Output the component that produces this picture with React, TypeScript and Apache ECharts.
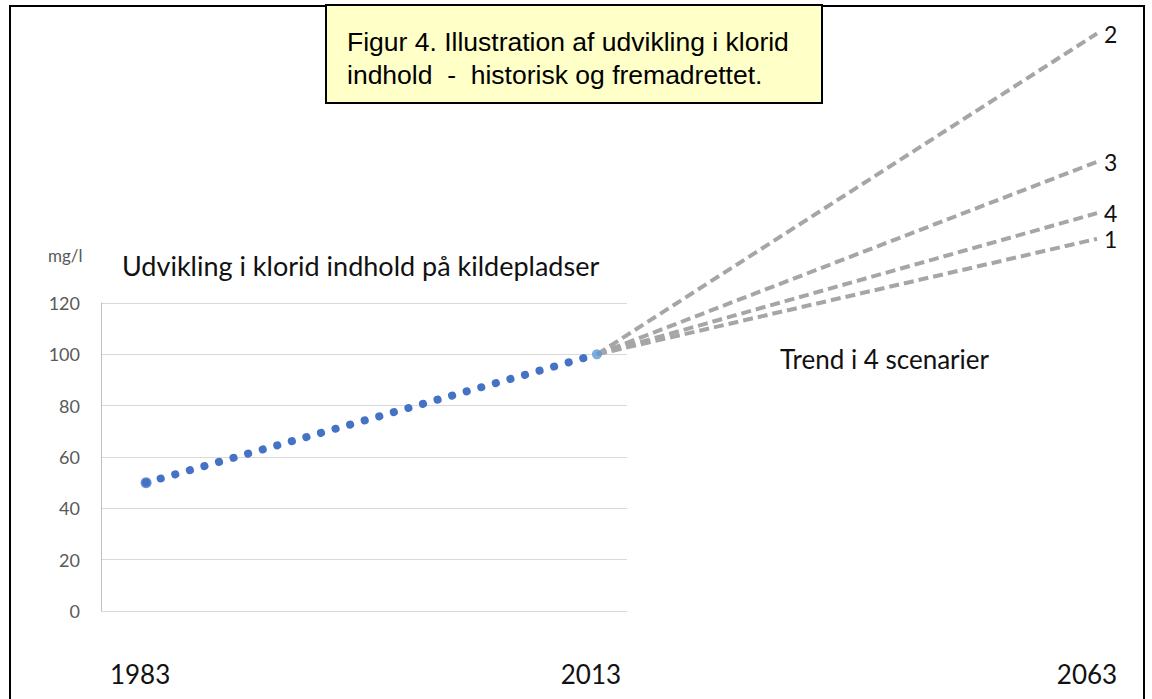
import React, { useEffect, useRef } from "react";
import * as echarts from "echarts";

// History: chloride content on the wells (mg/l)
const historyYears = [1983, 2013];
const historyValues = [50, 100];

// Scenario projections to 2063 (mg/l)
const scenarioNames = ["1", "2", "3", "4"];
const scenarioEndValues = [145, 225, 175, 155];
const projectionYears = [2013, 2063];

const yTicks = [0, 20, 40, 60, 80, 100, 120];
const xLabelsHistory = [1983, 2013];
const xLabelsProjection = [2063];

const FONT = "Lato, 'Open Sans', sans-serif";

export default function App() {
  const ref = useRef<HTMLDivElement>(null);
  useEffect(() => {
    if (!ref.current) return;
    const chart = echarts.init(ref.current, null, { renderer: "svg" });

    const scenarioSeries = scenarioNames.map((name, i) => ({
      name,
      type: "line",
      xAxisIndex: 1,
      yAxisIndex: 1,
      clip: false,
      symbol: "none",
      silent: true,
      z: 3,
      lineStyle: { color: "#A6A6A6", width: 4, type: [10, 5] },
      endLabel: {
        show: true,
        formatter: name,
        color: "#111",
        fontSize: 23,
        fontFamily: FONT,
        distance: 7,
      },
      data: [
        [projectionYears[0], historyValues[historyValues.length - 1]],
        [projectionYears[1], scenarioEndValues[i]],
      ],
    }));

    chart.setOption({
      animation: false,
      backgroundColor: "#ffffff",
      grid: [
        { left: 101, top: 303, width: 526, height: 308, containLabel: false },
        { left: 597, top: 303, width: 500, height: 308, containLabel: false },
      ],
      xAxis: [
        {
          type: "value",
          gridIndex: 0,
          min: 1980,
          max: 2015,
          splitLine: { show: false },
          axisLine: { show: false },
          axisTick: { show: false },
          axisLabel: {
            customValues: xLabelsHistory,
            formatter: (v: number) => String(v),
            fontSize: 26,
            fontFamily: FONT,
            color: "#111",
            margin: 50,
            padding: [0, 12, 0, 0],
          },
        },
        {
          type: "value",
          gridIndex: 1,
          min: projectionYears[0],
          max: projectionYears[1],
          splitLine: { show: false },
          axisLine: { show: false },
          axisTick: { show: false },
          axisLabel: {
            customValues: xLabelsProjection,
            formatter: (v: number) => String(v),
            fontSize: 26,
            fontFamily: FONT,
            color: "#111",
            margin: 50,
            padding: [0, 20, 0, 0],
          },
        },
      ],
      yAxis: [
        {
          type: "value",
          gridIndex: 0,
          min: 0,
          max: 120,
          interval: 20,
          axisLine: { show: true, lineStyle: { color: "#BFBFBF", width: 1 } },
          axisTick: { show: false },
          splitLine: { show: true, lineStyle: { color: "#D9D9D9", width: 1 } },
          axisLabel: {
            customValues: yTicks,
            color: "#595959",
            fontSize: 18,
            fontFamily: FONT,
            margin: 21,
          },
        },
        {
          type: "value",
          gridIndex: 1,
          min: 0,
          max: 120,
          show: false,
        },
      ],
      series: [
        {
          name: "Historisk",
          type: "line",
          xAxisIndex: 0,
          yAxisIndex: 0,
          symbol: "none",
          silent: true,
          z: 4,
          lineStyle: { color: "#4472C4", width: 8, type: [0.1, 15.05], cap: "round" },
          data: historyYears.map((y, i) => [y, historyValues[i]]),
        },
        {
          name: "Start",
          type: "scatter",
          xAxisIndex: 0,
          yAxisIndex: 0,
          silent: true,
          z: 5,
          symbolSize: 11,
          itemStyle: { color: "#4472C4" },
          data: [[historyYears[0], historyValues[0]]],
        },
        {
          name: "Nu",
          type: "scatter",
          xAxisIndex: 0,
          yAxisIndex: 0,
          silent: true,
          z: 5,
          symbolSize: 10,
          itemStyle: { color: "#5B9BD5" },
          data: [[historyYears[1], historyValues[1]]],
        },
        ...scenarioSeries,
      ],
      graphic: [
        {
          type: "rect",
          z: 1,
          shape: { x: 10, y: 6, width: 1134, height: 710 },
          style: { fill: "none", stroke: "#000", lineWidth: 2 },
          silent: true,
        },
        {
          type: "rect",
          z: 10,
          shape: { x: 326, y: 5, width: 496, height: 98 },
          style: { fill: "#FFFFC8", stroke: "#000", lineWidth: 2 },
          silent: true,
        },
        {
          type: "text",
          z: 11,
          left: 347,
          top: 25,
          style: {
            text: "Figur 4. Illustration af udvikling i klorid\nindhold  -  historisk og fremadrettet.",
            font: "26.5px 'Liberation Sans', Arial, sans-serif",
            fill: "#000",
            lineHeight: 33,
          },
          silent: true,
        },
        {
          type: "text",
          left: 48,
          top: 247,
          style: { text: "mg/l", font: `17px ${FONT}`, fill: "#595959" },
          silent: true,
        },
        {
          type: "text",
          left: 122,
          top: 252,
          style: {
            text: "Udvikling i klorid indhold på kildepladser",
            font: `27px ${FONT}`,
            fill: "#111",
          },
          silent: true,
        },
        {
          type: "text",
          left: 780,
          top: 346,
          style: { text: "Trend i 4 scenarier", font: `26px ${FONT}`, fill: "#111" },
          silent: true,
        },
      ],
    });
    return () => chart.dispose();
  }, []);
  return (
    <div
      ref={ref}
      style={{ position: "fixed", left: 0, top: 0, width: 1152, height: 699 }}
    />
  );
}
